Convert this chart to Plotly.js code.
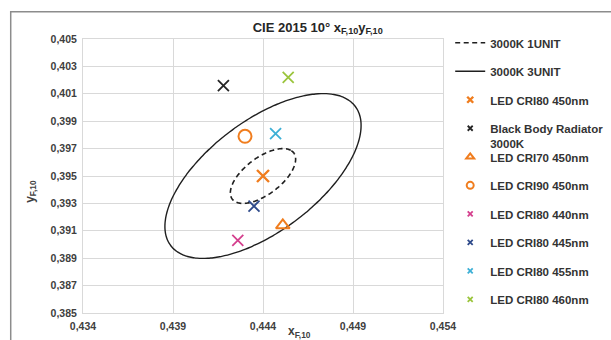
<!DOCTYPE html>
<html><head><meta charset="utf-8">
<script src="https://cdn.plot.ly/plotly-3.0.1.min.js"></script>
<style>html,body{margin:0;padding:0;background:#fff}#chart{width:611px;height:340px}</style>
</head><body><div id="chart"></div>
<script>
// ---- data ----
const ellipseNames = ['3000K 1UNIT', '3000K 3UNIT'];
const ellipseCenterX = [0.4440, 0.4440];
const ellipseCenterY = [0.3950, 0.3950];
const ellipseSemiMajor = [0.00243, 0.00730];
const ellipseSemiMinor = [0.00118, 0.00355];
const ellipseAngleDeg = [49.6, 49.6];

const pointNames = ['LED CRI80 450nm', 'Black Body Radiator<br>3000K', 'LED CRI70 450nm', 'LED CRI90 450nm',
                    'LED CRI80 440nm', 'LED CRI80 445nm', 'LED CRI80 455nm', 'LED CRI80 460nm'];
const pointX = [0.4440, 0.4418, 0.4451, 0.4430, 0.4426, 0.4435, 0.4447, 0.4454];
const pointY = [0.3950, 0.4016, 0.3914, 0.3979, 0.3903, 0.3928, 0.3981, 0.4022];

const xTickVals = [0.434, 0.439, 0.444, 0.449, 0.454];
const xTickText = ['0,434', '0,439', '0,444', '0,449', '0,454'];
const yTickVals = [0.385, 0.387, 0.389, 0.391, 0.393, 0.395, 0.397, 0.399, 0.401, 0.403, 0.405];
const yTickText = ['0,385', '0,387', '0,389', '0,391', '0,393', '0,395', '0,397', '0,399', '0,401', '0,403', '0,405'];

// ---- styles ----
const ellipseDash = ['5px,3.5px', 'solid'];
const ellipseWidth = [1.6, 1.4];
const pointSymbols = ['x-thin-open', 'x-thin-open', 'triangle-up-open', 'circle-open',
                      'x-thin-open', 'x-thin-open', 'x-thin-open', 'x-thin-open'];
const pointColors = ['#F07D1E', '#262626', '#F07D1E', '#F07D1E', '#D43F8D', '#2F4B8B', '#3DB0D6', '#9BC53D'];
const pointSizes = [12, 11, 12, 13, 11, 11, 11, 11];
const pointLineW = [2.4, 1.8, 2, 2, 1.8, 1.8, 1.8, 1.8];
const legendSizes = [6, 5, 7, 7, 5, 5, 5, 5];
const FONT = '"Liberation Sans", Arial, sans-serif';

function ellipse(cx, cy, a, b, deg) {
  const th = deg * Math.PI / 180, xs = [], ys = [];
  for (let i = 0; i <= 180; i++) {
    const t = 2 * Math.PI * i / 180;
    const ex = a * Math.cos(t), ey = b * Math.sin(t);
    xs.push(cx + ex * Math.cos(th) - ey * Math.sin(th));
    ys.push(cy + ex * Math.sin(th) + ey * Math.cos(th));
  }
  return {xs, ys};
}

const traces = [];
ellipseNames.forEach((n, i) => {
  const e = ellipse(ellipseCenterX[i], ellipseCenterY[i], ellipseSemiMajor[i], ellipseSemiMinor[i], ellipseAngleDeg[i]);
  traces.push({type: 'scatter', mode: 'lines', x: e.xs, y: e.ys, name: n, legend: 'legend', legendgroup: 'g' + i,
    line: {color: '#1f1f1f', width: ellipseWidth[i], dash: ellipseDash[i], shape: 'spline'}, hoverinfo: 'skip'});
});
pointNames.forEach((n, i) => {
  traces.push({type: 'scatter', mode: 'markers', x: [pointX[i]], y: [pointY[i]], name: n, showlegend: false,
    marker: {symbol: pointSymbols[i], size: pointSizes[i], color: pointColors[i], line: {color: pointColors[i], width: pointLineW[i]}}});
});
pointNames.forEach((n, i) => {
  traces.push({type: 'scatter', mode: 'markers', x: [null], y: [null], name: n,
    legend: i < 2 ? 'legend' : 'legend2', legendgroup: 'p' + i,
    marker: {symbol: pointSymbols[i], size: legendSizes[i], color: pointColors[i], line: {color: pointColors[i], width: pointLineW[i]}}});
});

const legendCommon = {font: {family: FONT, size: 11.5, color: '#333333', weight: 'bold'}, bgcolor: 'rgba(0,0,0,0)',
  borderwidth: 0, traceorder: 'grouped', tracegroupgap: 9.5, valign: 'top', xanchor: 'left', yanchor: 'top'};

const layout = {
  width: 611, height: 340,
  margin: {l: 83, r: 168, t: 39, b: 27, pad: 0, autoexpand: false},
  paper_bgcolor: '#ffffff', plot_bgcolor: '#ffffff',
  font: {family: FONT, size: 11, color: '#404040', weight: 'bold'},
  title: {text: 'CIE 2015 10° x<sub>F,10</sub>y<sub>F,10</sub>', font: {family: FONT, size: 13, color: '#262626', weight: 'bold'},
    xref: 'paper', x: 0.652, xanchor: 'center', yref: 'container', y: 1 - 27 / 340, yanchor: 'middle'},
  xaxis: {range: [0.434, 0.454], tickvals: xTickVals, ticktext: xTickText, showgrid: true, gridcolor: '#d9d9d9', gridwidth: 1,
    showline: true, linecolor: '#d9d9d9', linewidth: 1, mirror: true, zeroline: false, ticks: '', ticklabelstandoff: 3,
    tickfont: {family: FONT, size: 10.5, color: '#404040', weight: 'bold'}},
  yaxis: {range: [0.385, 0.405], tickvals: yTickVals, ticktext: yTickText, showgrid: true, gridcolor: '#d9d9d9', gridwidth: 1,
    showline: true, linecolor: '#d9d9d9', linewidth: 1, mirror: true, zeroline: false, ticks: '', ticklabelstandoff: 3,
    tickfont: {family: FONT, size: 10.5, color: '#404040', weight: 'bold'}},
  legend: Object.assign({x: 1.02, y: 1.0373}, legendCommon),
  legend2: Object.assign({x: 1.02, y: 0.621}, legendCommon),
  annotations: [
    {text: 'x<sub>F,10</sub>', xref: 'paper', yref: 'paper', x: 0.602, y: -0.068, xanchor: 'center', yanchor: 'middle',
      showarrow: false, font: {family: FONT, size: 12, color: '#404040', weight: 'bold'}},
    {text: 'y<sub>F,10</sub>', xref: 'paper', yref: 'paper', x: -0.145, y: 0.445, xanchor: 'center', yanchor: 'middle',
      textangle: -90, showarrow: false, font: {family: FONT, size: 12, color: '#404040', weight: 'bold'}}
  ],
  shapes: [
    {type: 'rect', xref: 'paper', yref: 'paper', x0: -0.2008, x1: 1.7, y0: -0.3, y1: 1.0999,
      line: {color: '#8c8c8c', width: 1.5}, fillcolor: 'rgba(0,0,0,0)', layer: 'below'}
  ],
  showlegend: true
};

Plotly.newPlot('chart', traces, layout, {staticPlot: true, displayModeBar: false});
</script>
</body></html>
